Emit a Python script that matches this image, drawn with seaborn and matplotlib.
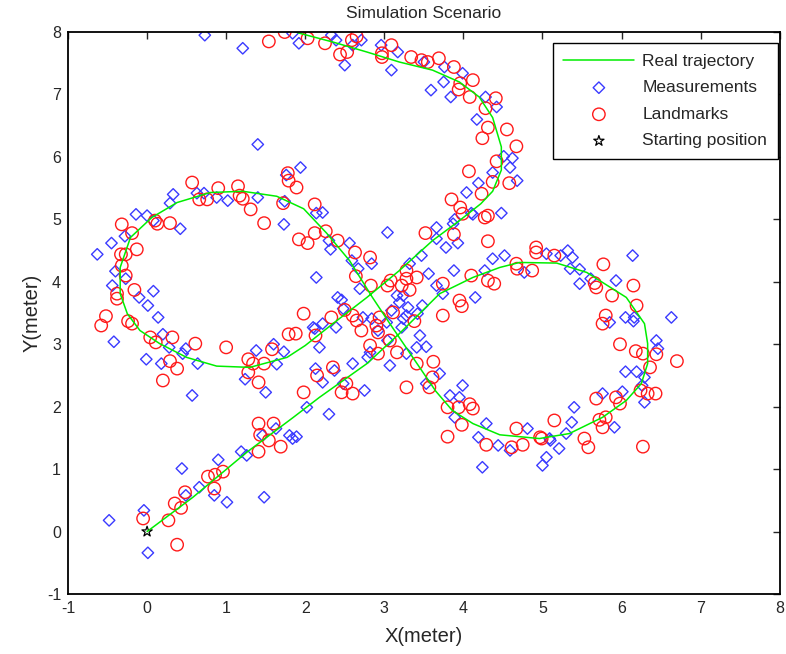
import numpy as np
import pandas as pd
import seaborn as sns
import matplotlib.pyplot as plt

# real trajectory (x, y)
traj = np.array([
    (0.0, 0.0), (0.58, 0.55), (1.26, 1.27), (1.85, 1.83), (2.18, 2.15), (2.78, 2.69),
    (3.19, 3.17), (3.7, 3.81), (4.12, 4.07), (4.46, 4.23), (4.71, 4.31), (5.18, 4.3),
    (5.56, 4.15), (6.06, 3.75), (6.29, 3.33), (6.33, 3.01), (6.33, 2.69), (6.25, 2.37),
    (6.06, 2.1), (5.76, 1.83), (5.34, 1.57), (4.96, 1.49), (4.46, 1.55), (4.12, 1.73),
    (3.86, 1.94), (3.65, 2.25), (3.36, 2.79), (3.07, 3.33), (2.85, 3.75), (2.56, 4.34),
    (2.27, 4.78), (1.98, 5.17), (1.64, 5.37), (1.21, 5.45), (0.8, 5.43), (0.38, 5.27),
    (0.06, 5.03), (-0.21, 4.71), (-0.34, 4.23), (-0.34, 3.81), (-0.25, 3.49), (-0.09, 3.22),
    (0.16, 3.01), (0.5, 2.79), (0.88, 2.65), (1.3, 2.63), (1.77, 2.79), (2.0, 2.98),
    (2.35, 3.33), (2.78, 3.75), (3.19, 4.18), (3.61, 4.66), (3.95, 4.98), (4.22, 5.25),
    (4.37, 5.45), (4.48, 5.79), (4.48, 6.16), (4.37, 6.63), (4.2, 6.96), (3.95, 7.2),
    (3.61, 7.39), (3.19, 7.52), (2.78, 7.68), (2.35, 7.84), (1.93, 7.98), (1.6, 8.12),
])

measurements = np.array([
    (0.73, 7.95), (1.21, 7.74), (1.84, 7.98), (1.92, 7.82), (1.40, 6.20), (1.94, 5.83),
    (1.76, 5.71), (0.33, 5.40), (0.29, 5.26), (0.63, 5.42), (0.72, 5.42), (0.88, 5.35),
    (1.02, 5.30), (1.40, 5.35), (1.74, 5.29), (-0.14, 5.08), (0.0, 5.06),
    (2.33, 7.95), (2.39, 7.87), (2.6, 7.79), (2.71, 7.87), (2.5, 7.47), (2.96, 7.79),
    (3.17, 7.68), (3.09, 7.39), (3.5, 7.52), (3.76, 7.44), (3.99, 7.34), (3.75, 7.2),
    (3.59, 7.07), (3.84, 6.96), (4.28, 6.96), (4.42, 6.8), (4.17, 6.6), (4.51, 6.01),
    (4.62, 5.98), (4.59, 5.83), (4.37, 5.75), (4.68, 5.62), (4.19, 5.58), (4.04, 5.43),
    (4.48, 5.1), (4.1, 5.1), (3.89, 5.0), (2.14, 5.1), (2.22, 5.11),
    (0.08, 4.98), (0.42, 4.85), (-0.28, 4.73), (-0.45, 4.62), (-0.63, 4.44),
    (-0.4, 4.17), (-0.27, 4.05), (-0.44, 3.94), (0.08, 3.85), (-0.1, 3.75), (0.01, 3.62),
    (0.14, 3.43), (-0.42, 3.04), (0.2, 3.16), (0.28, 2.95), (0.49, 2.93), (0.45, 2.85),
    (-0.01, 2.76), (0.18, 2.69), (0.64, 2.69), (1.24, 2.44), (0.57, 2.18), (1.5, 2.23),
    (1.38, 2.9), (1.6, 3.0), (1.73, 2.88), (1.64, 2.68), (1.73, 4.92), (2.12, 3.25),
    (2.14, 4.07),
    (3.04, 4.79), (3.66, 4.87), (3.87, 4.93), (4.12, 5.08), (2.3, 4.66), (2.56, 4.62),
    (2.32, 4.52), (3.66, 4.69), (3.78, 4.55), (3.93, 4.62), (3.47, 4.42), (3.32, 4.29),
    (2.59, 4.34), (2.67, 4.21), (2.84, 4.29), (4.37, 4.37), (4.52, 4.42), (4.27, 4.18),
    (3.56, 4.13), (3.88, 4.18), (3.66, 3.94), (3.74, 3.81), (4.15, 3.75), (2.69, 3.89),
    (2.41, 3.75), (2.46, 3.71), (3.16, 3.78), (3.24, 3.78), (3.19, 3.67), (3.3, 3.59),
    (3.48, 3.62), (2.48, 3.57), (3.09, 3.54), (3.28, 3.46), (3.42, 3.49), (2.73, 3.43),
    (2.84, 3.41), (2.1, 3.27), (2.22, 3.33), (2.39, 3.27), (3.24, 3.41), (2.92, 3.22),
    (3.03, 3.35), (3.22, 3.27), (3.45, 3.14), (2.18, 2.95), (3.04, 3.06), (3.41, 2.95),
    (3.53, 2.96), (2.82, 2.87), (3.28, 2.85), (2.6, 2.69), (2.79, 2.79), (3.07, 2.66),
    (3.7, 2.53), (2.13, 2.61), (2.37, 2.58), (2.22, 2.39), (2.48, 2.37), (2.75, 2.26),
    (3.53, 2.37), (3.99, 2.34), (3.83, 2.18), (3.95, 2.15),
    (5.05, 4.45), (5.23, 4.42), (5.32, 4.5), (5.38, 4.39), (5.35, 4.21), (5.47, 4.2),
    (5.47, 3.97), (5.61, 4.05), (5.93, 4.02), (6.14, 4.42), (4.77, 4.15), (5.85, 3.35),
    (6.05, 3.43), (6.16, 3.43), (6.15, 3.37), (6.63, 3.43), (6.44, 3.06), (6.46, 2.93),
    (6.05, 2.56), (6.19, 2.56), (6.29, 2.47), (6.26, 2.34), (6.29, 2.07), (6.01, 2.24),
    (5.76, 2.21), (5.4, 1.99), (5.37, 1.75), (5.91, 1.67), (5.3, 1.57), (4.81, 1.65),
    (5.09, 1.49), (5.21, 1.33),
    (2.02, 1.99), (-0.48, 0.18), (-0.04, 0.34), (0.01, -0.34), (0.44, 1.01), (0.9, 1.15),
    (0.66, 0.71), (0.49, 0.58), (0.85, 0.58), (1.01, 0.47), (1.48, 0.55), (1.19, 1.28),
    (1.26, 1.22), (1.46, 1.54), (1.8, 1.54), (1.84, 1.49), (1.89, 1.52), (1.63, 1.65),
    (2.3, 1.88), (3.89, 1.83), (4.29, 1.73), (4.19, 1.51), (4.44, 1.38), (4.59, 1.3),
    (5.05, 1.19), (5.0, 1.06), (5.1, 1.46), (4.24, 1.03),
])

landmarks = np.array([
    (1.74, 8.0), (1.54, 7.85), (2.03, 7.9), (1.78, 5.74), (1.79, 5.62), (1.89, 5.51),
    (0.57, 5.59), (0.66, 5.32), (0.76, 5.32), (0.9, 5.50), (1.15, 5.53), (1.17, 5.38),
    (1.21, 5.33), (1.31, 5.16), (1.72, 5.26), (2.12, 5.24), (0.10, 4.98),
    (2.25, 7.82), (2.59, 7.87), (2.65, 7.93), (2.44, 7.64), (2.53, 7.68), (2.97, 7.66),
    (2.97, 7.6), (3.09, 7.79), (3.34, 7.6), (3.47, 7.55), (3.55, 7.52), (3.69, 7.58),
    (3.88, 7.44), (4.12, 7.23), (3.96, 7.18), (3.94, 7.08), (4.08, 6.96), (4.41, 6.94),
    (4.28, 6.78), (4.31, 6.47), (4.55, 6.44), (4.24, 6.3), (4.67, 6.17), (4.42, 5.93),
    (4.07, 5.77), (4.37, 5.6), (4.58, 5.58), (4.23, 5.41), (3.85, 5.32), (3.96, 5.19),
    (4.31, 5.06), (4.27, 5.03),
    (-0.32, 4.92), (-0.19, 4.78), (0.13, 4.93), (0.29, 4.94), (-0.13, 4.52), (-0.33, 4.44),
    (-0.27, 4.44), (-0.32, 4.26), (-0.27, 4.1), (-0.16, 3.87), (-0.38, 3.81), (-0.38, 3.73),
    (-0.52, 3.45), (-0.58, 3.3), (-0.24, 3.37), (-0.19, 3.33), (0.04, 3.11), (0.11, 3.03),
    (0.32, 3.11), (0.61, 3.01), (1.0, 2.95), (0.29, 2.73), (0.38, 2.61), (0.2, 2.42),
    (1.28, 2.76), (1.34, 2.69), (1.28, 2.55), (1.41, 2.39), (1.48, 2.69), (1.58, 2.92),
    (1.79, 3.16), (1.88, 3.17), (1.98, 3.49), (1.98, 2.23), (1.48, 4.94), (1.92, 4.68),
    (2.03, 4.62), (2.12, 4.78), (2.13, 3.14), (2.15, 2.5),
    (3.99, 5.09), (4.31, 4.65), (2.26, 4.81), (2.41, 4.66), (2.63, 4.47), (2.82, 4.39),
    (3.52, 4.78), (3.88, 4.76), (2.64, 4.09), (4.92, 4.55), (4.92, 4.47), (5.15, 4.42),
    (4.67, 4.29), (4.68, 4.21), (4.87, 4.18), (4.1, 4.1), (4.31, 4.02), (4.39, 3.97),
    (3.28, 4.18), (3.28, 4.05), (3.41, 4.07), (3.08, 4.02), (3.22, 3.94), (3.32, 3.87),
    (3.04, 3.94), (2.83, 3.94), (3.74, 3.97), (3.95, 3.7), (3.98, 3.61), (3.74, 3.46),
    (2.33, 3.43), (2.5, 3.55), (2.6, 3.46), (2.65, 3.38), (2.94, 3.43), (3.11, 3.51),
    (3.38, 3.37), (2.71, 3.22), (2.9, 3.3), (2.92, 3.19), (3.07, 3.06), (2.82, 2.98),
    (2.92, 2.85), (3.16, 2.87), (3.62, 2.72), (3.41, 2.69), (2.35, 2.63), (3.61, 2.47),
    (3.57, 2.31), (3.28, 2.31), (2.52, 2.37), (2.46, 2.23), (2.6, 2.21),
    (5.77, 4.28), (5.66, 3.98), (5.68, 3.91), (6.15, 3.94), (5.88, 3.78), (6.19, 3.62),
    (5.8, 3.46), (5.76, 3.33), (5.98, 3.0), (6.18, 2.89), (6.27, 2.85), (6.44, 2.84),
    (6.7, 2.73), (6.36, 2.63), (6.24, 2.26), (6.33, 2.21), (6.43, 2.21), (5.68, 2.13),
    (5.93, 2.15), (5.98, 2.05), (5.72, 1.79), (5.8, 1.83), (5.76, 1.67), (5.15, 1.78),
    (5.53, 1.49), (5.58, 1.35), (6.27, 1.36), (4.99, 1.49),
    (1.41, 1.73), (1.6, 1.73), (1.43, 1.55), (1.54, 1.46), (1.69, 1.36), (1.41, 1.28),
    (0.96, 0.96), (0.86, 0.91), (0.77, 0.88), (0.85, 0.69), (0.48, 0.63), (0.35, 0.45),
    (0.43, 0.38), (0.27, 0.18), (-0.05, 0.21), (0.38, -0.21),
    (3.8, 1.99), (3.94, 1.99), (4.08, 2.04), (4.12, 1.97), (3.98, 1.71), (3.8, 1.52),
    (4.29, 1.39), (4.67, 1.65), (4.61, 1.35), (4.75, 1.39), (4.97, 1.51),
])

start = np.array([(0.0, 0.0)])

traj_df = pd.DataFrame(traj, columns=["x", "y"])
meas_df = pd.DataFrame(measurements, columns=["x", "y"])
land_df = pd.DataFrame(landmarks, columns=["x", "y"])
start_df = pd.DataFrame(start, columns=["x", "y"])

sns.set_style("white")
plt.rcParams['font.family'] = ['Liberation Sans', 'DejaVu Sans']
plt.rcParams['axes.unicode_minus'] = False
plt.rcParams['xtick.direction'] = 'in'
plt.rcParams['ytick.direction'] = 'in'

fig = plt.figure(figsize=(7.86, 6.54), dpi=100)
ax = fig.add_axes([0.0865, 0.0917, 0.9055, 0.8593])

sns.lineplot(data=traj_df, x="x", y="y", sort=False, estimator=None, color="#00ee00",
             linewidth=1.1, ax=ax, label="Real trajectory")
sns.scatterplot(data=meas_df, x="x", y="y", marker="D", s=34, facecolor="none",
                edgecolor="#3a3aff", linewidth=1.0, ax=ax, label="Measurements")
sns.scatterplot(data=land_df, x="x", y="y", marker="o", s=80, facecolor="none",
                edgecolor="#ff1a1a", linewidth=1.0, ax=ax, label="Landmarks")
sns.scatterplot(data=start_df, x="x", y="y", marker="*", s=60, facecolor="none",
                edgecolor="black", linewidth=0.9, ax=ax, label="Starting position")

ax.set_xlim(-1, 8)
ax.set_ylim(-1, 8)
ax.set_xticks(range(-1, 9))
ax.set_yticks(range(-1, 9))
ax.tick_params(labelsize=11.5, length=5, width=1, top=True, right=True, pad=5)
for s in ax.spines.values():
    s.set_linewidth(1.3)
    s.set_color("black")

ax.set_xlabel("X(meter)", fontsize=14.5, labelpad=8)
ax.set_ylabel("Y(meter)", fontsize=14.5, labelpad=4)
ax.set_title("Simulation Scenario", fontsize=12.5, pad=10)

leg = ax.legend(loc="upper right", bbox_to_anchor=(0.997, 0.9804), borderaxespad=0,
                fontsize=12.5, frameon=True, fancybox=False, edgecolor="black",
                framealpha=1, handlelength=4.1, handletextpad=0.45,
                labelspacing=0.66, borderpad=0.6)
leg.get_frame().set_linewidth(1.0)

fig.savefig("out.png", dpi=100)
